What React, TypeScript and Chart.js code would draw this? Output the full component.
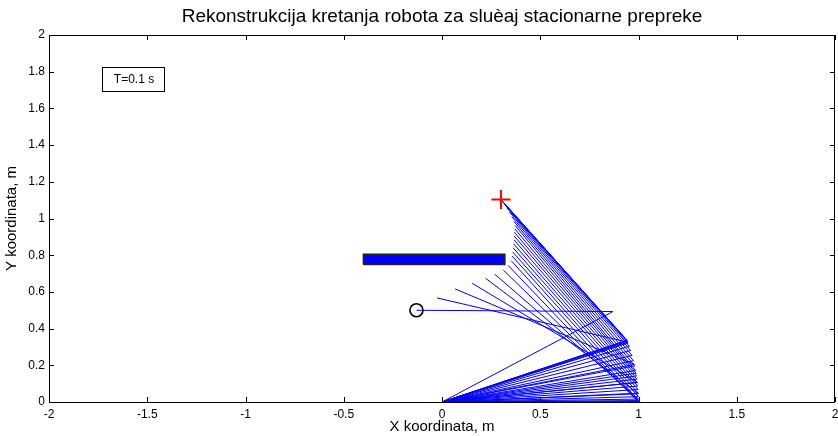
import React, { useEffect, useRef } from "react";
import { Chart, registerables } from "chart.js";

Chart.register(...registerables);

const titleText = "Rekonstrukcija kretanja robota za sluèaj stacionarne prepreke";
const xLabel = "X koordinata, m";
const yLabel = "Y koordinata, m";
const noteText = "T=0.1 s";

const xTicks = [-2, -1.5, -1, -0.5, 0, 0.5, 1, 1.5, 2];
const yTicks = [0, 0.2, 0.4, 0.6, 0.8, 1, 1.2, 1.4, 1.6, 1.8, 2];

// robot base
const baseX = 0;
const baseY = 0;

// elbow (joint) positions per time step
const elbowX = [0.87, 0.946, 0.979, 0.994, 0.999, 1.0, 1.0, 1.0, 1.0, 1.0, 0.999, 0.998, 0.996, 0.994, 0.992, 0.99, 0.988, 0.985, 0.981, 0.974, 0.967, 0.96, 0.953, 0.947, 0.944, 0.942, 0.942];
const elbowY = [0.493, 0.326, 0.205, 0.107, 0.045, 0.016, 0.002, 0.0, 0.008, 0.029, 0.048, 0.068, 0.087, 0.106, 0.125, 0.142, 0.157, 0.172, 0.197, 0.225, 0.254, 0.281, 0.304, 0.321, 0.331, 0.336, 0.336];

// end-effector positions per time step
const endX = [-0.13, -0.025, 0.067, 0.153, 0.222, 0.268, 0.312, 0.336, 0.352, 0.357, 0.36, 0.362, 0.364, 0.366, 0.367, 0.368, 0.37, 0.372, 0.365, 0.355, 0.343, 0.33, 0.318, 0.309, 0.303, 0.3, 0.3];
const endY = [0.5, 0.567, 0.616, 0.647, 0.674, 0.697, 0.719, 0.745, 0.77, 0.795, 0.817, 0.84, 0.862, 0.884, 0.905, 0.925, 0.944, 0.962, 0.985, 1.01, 1.035, 1.058, 1.077, 1.091, 1.099, 1.103, 1.103];

// stationary obstacle (rectangle corners)
const obstacleX = [-0.4, 0.32];
const obstacleY = [0.75, 0.805];

// start and goal markers
const startX = -0.13;
const startY = 0.5;
const goalX = 0.3;
const goalY = 1.103;

const FONT = "'Liberation Sans', Arial, sans-serif";

export default function App() {
  const ref = useRef<HTMLCanvasElement | null>(null);

  useEffect(() => {
    const canvas = ref.current;
    if (!canvas) return;

    const armSets = endX.map((ex, i) => ({
      data: [
        { x: baseX, y: baseY },
        { x: elbowX[i], y: elbowY[i] },
        { x: ex, y: endY[i] },
      ],
      showLine: true,
      borderColor: "#0000ff",
      borderWidth: 1,
      pointRadius: 0,
      fill: false,
    }));

    const obstacle = {
      data: [
        { x: obstacleX[0], y: obstacleY[0] },
        { x: obstacleX[1], y: obstacleY[0] },
        { x: obstacleX[1], y: obstacleY[1] },
        { x: obstacleX[0], y: obstacleY[1] },
        { x: obstacleX[0], y: obstacleY[0] },
      ],
      showLine: true,
      borderColor: "#222222",
      borderWidth: 1.5,
      backgroundColor: "#0000ff",
      fill: "shape",
      pointRadius: 0,
    };

    const start = {
      data: [{ x: startX, y: startY }],
      showLine: false,
      pointStyle: "circle",
      pointRadius: 6.5,
      pointBorderWidth: 1.6,
      pointBorderColor: "#000000",
      pointBackgroundColor: "rgba(0,0,0,0)",
    };

    const goal = {
      data: [{ x: goalX, y: goalY }],
      showLine: false,
      pointStyle: "cross",
      pointRadius: 9.5,
      pointBorderWidth: 2,
      pointBorderColor: "#ff0000",
    };

    const decor = {
      id: "decor",
      beforeDatasetsDraw(chart: any) {
        const { ctx, chartArea: a, scales } = chart;
        ctx.save();
        ctx.strokeStyle = "#000";
        ctx.lineWidth = 1;
        ctx.beginPath();
        const tl = 5;
        xTicks.forEach((v) => {
          const px = Math.round(scales.x.getPixelForValue(v)) + 0.5;
          ctx.moveTo(px, a.bottom);
          ctx.lineTo(px, a.bottom - tl);
          ctx.moveTo(px, a.top);
          ctx.lineTo(px, a.top + tl);
        });
        yTicks.forEach((v) => {
          const py = Math.round(scales.y.getPixelForValue(v)) + 0.5;
          ctx.moveTo(a.left, py);
          ctx.lineTo(a.left + tl, py);
          ctx.moveTo(a.right, py);
          ctx.lineTo(a.right - tl, py);
        });
        ctx.stroke();
        ctx.strokeRect(Math.round(a.left) + 0.5, Math.round(a.top) + 0.5, Math.round(a.right - a.left) - 1, Math.round(a.bottom - a.top));
        ctx.restore();
      },
      afterDraw(chart: any) {
        const { ctx, chartArea: a } = chart;
        const cx = (a.left + a.right) / 2;
        ctx.save();
        ctx.fillStyle = "#000";
        ctx.textAlign = "center";
        ctx.textBaseline = "middle";
        ctx.font = `19px ${FONT}`;
        ctx.fillText(titleText, cx, 17);
        ctx.font = `15px ${FONT}`;
        ctx.fillText(xLabel, cx, 427);
        ctx.save();
        ctx.translate(12, (a.top + a.bottom) / 2);
        ctx.rotate(-Math.PI / 2);
        ctx.fillText(yLabel, 0, 0);
        ctx.restore();
        // note box
        const bx = a.left + 53;
        const by = a.top + 32;
        const bw = 62;
        const bh = 24;
        ctx.fillStyle = "#fff";
        ctx.fillRect(bx, by, bw, bh);
        ctx.strokeStyle = "#000";
        ctx.lineWidth = 1;
        ctx.strokeRect(bx + 0.5, by + 0.5, bw, bh);
        ctx.fillStyle = "#000";
        ctx.font = `12px ${FONT}`;
        ctx.fillText(noteText, bx + bw / 2 + 1, by + bh / 2 + 1);
        ctx.restore();
      },
    };

    const chart = new Chart(canvas, {
      type: "scatter",
      data: { datasets: [goal, start, obstacle, ...armSets] as any },
      options: {
        animation: false,
        responsive: false,
        maintainAspectRatio: false,
        layout: { autoPadding: false, padding: { top: 35, right: 3, left: 0, bottom: 0 } },
        plugins: { legend: { display: false }, tooltip: { enabled: false }, title: { display: false } },
        scales: {
          x: {
            type: "linear",
            min: xTicks[0],
            max: xTicks[xTicks.length - 1],
            afterBuildTicks: (s: any) => {
              s.ticks = xTicks.map((v) => ({ value: v }));
            },
            afterFit: (s: any) => {
              s.height = 34;
              s.paddingLeft = 0;
              s.paddingRight = 0;
            },
            grid: { display: false, drawTicks: false },
            border: { display: false },
            ticks: {
              autoSkip: false,
              maxRotation: 0,
              padding: 5,
              color: "#000",
              font: { family: FONT, size: 12 },
              callback: (v: any) => String(v),
            },
          },
          y: {
            type: "linear",
            min: yTicks[0],
            max: yTicks[yTicks.length - 1],
            afterBuildTicks: (s: any) => {
              s.ticks = yTicks.map((v) => ({ value: v }));
            },
            afterFit: (s: any) => {
              s.width = 49;
              s.paddingTop = 0;
              s.paddingBottom = 0;
            },
            grid: { display: false, drawTicks: false },
            border: { display: false },
            ticks: {
              autoSkip: false,
              padding: 4,
              color: "#000",
              font: { family: FONT, size: 12 },
              callback: (v: any) => String(v),
            },
          },
        },
      },
      plugins: [decor],
    });

    return () => chart.destroy();
  }, []);

  return (
    <div style={{ position: "fixed", left: 0, top: 0, width: 838, height: 436, background: "#fff" }}>
      <canvas ref={ref} width={838} height={436} style={{ display: "block" }} />
    </div>
  );
}
